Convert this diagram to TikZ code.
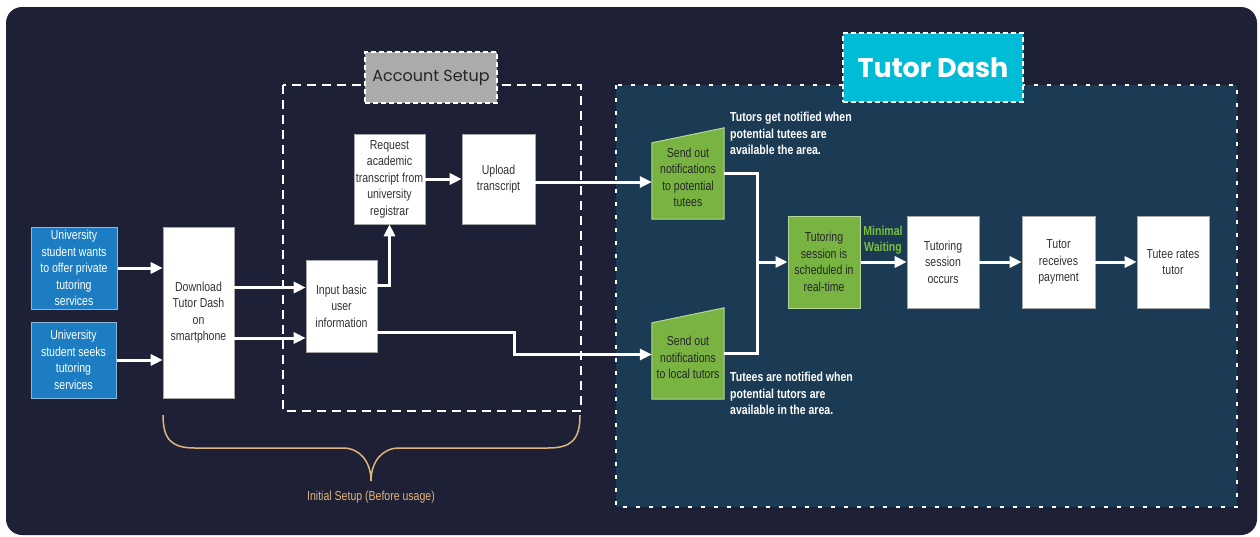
\documentclass[tikz,border=0pt]{standalone}
\usepackage{fontspec}
\setmainfont[FakeStretch=0.81]{Liberation Sans}
\newfontfamily\titlefont{Poppins}
\usetikzlibrary{calc,arrows.meta}
\pgfdeclarelayer{back}
\pgfdeclarelayer{mid}
\pgfsetlayers{back,mid,main}

\definecolor{bgnavy}{HTML}{1E2135}
\definecolor{regionblue}{HTML}{1B3A53}
\definecolor{boxblue}{HTML}{1C7DC2}
\definecolor{boxblueedge}{HTML}{8DB7DA}
\definecolor{boxgreen}{HTML}{79B443}
\definecolor{boxgreenedge}{HTML}{B5D69A}
\definecolor{labelgray}{HTML}{ABABAB}
\definecolor{labelcyan}{HTML}{00BCD6}
\definecolor{bracetan}{HTML}{E0B57B}
\definecolor{waitgreen}{HTML}{7CBF3F}
\definecolor{boxtext}{HTML}{333333}

\tikzset{
  txt/.style={font=\fontsize{13}{16.5}\selectfont, align=center, inner sep=0pt},
  wbox/.style={txt, draw=gray!70, line width=0.6pt, fill=white, text=boxtext},
  bbox/.style={txt, draw=boxblueedge, line width=1pt, fill=boxblue, text=white},
  gbox/.style={txt, draw=boxgreenedge, line width=1pt, fill=boxgreen, text=black!85},
  gtext/.style={txt, text=black!85},
  note/.style={font=\bfseries\fontsize{13}{16.5}\selectfont, align=left, inner sep=0pt, text=white, anchor=north west},
  arr/.style={draw=white, line width=3pt, -{Triangle[length=12pt,width=11pt]}},
  conn/.style={draw=white, line width=3pt},
  tag/.style={draw=white, line width=1.6pt, dash pattern=on 5pt off 3pt}
}

\begin{document}
\begin{tikzpicture}[x=1pt,y=-1pt]
\useasboundingbox (0,0) rectangle (1260,536);

\begin{pgfonlayer}{back}
  \fill[white] (0,0) rectangle (1260,536);
  \fill[bgnavy, rounded corners=16pt] (6,7) rectangle (1257,535);
  % Tutor Dash region
  \fill[regionblue] (616,85) rectangle (1237,507);
  \draw[white, line width=2.6pt, dash pattern=on 4pt off 9pt] (616,85) rectangle (1237,507);
  % Account Setup region
  \draw[white, line width=1.8pt, dash pattern=on 9pt off 6pt] (283,85) rectangle (581,411);
\end{pgfonlayer}

% region labels
\node[tag, fill=labelgray, minimum width=132pt, minimum height=51pt, text=black!85,
      font=\titlefont\fontsize{16}{18}\selectfont] (acct) at (431,77.5) {Account Setup};
\node[tag, fill=labelcyan, minimum width=180pt, minimum height=69pt, text=white,
      font=\titlefont\bfseries\fontsize{27}{30}\selectfont] (tdash) at (933,67.5) {Tutor Dash};

% students
\node[bbox, minimum width=86pt, minimum height=82pt] (b1) at (74,268)
  {University\\student wants\\to offer private\\tutoring\\services};
\node[bbox, minimum width=85pt, minimum height=76pt] (b2) at (73.5,360)
  {University\\student seeks\\tutoring\\services};

% setup steps
\node[wbox, minimum width=71pt, minimum height=171pt] (dl) at (198.5,312.5)
  {Download\\Tutor Dash\\on\\smartphone};
\node[wbox, minimum width=71pt, minimum height=92pt] (inp) at (341.5,306)
  {Input basic\\user\\information};
\node[wbox, minimum width=71pt, minimum height=90pt] (req) at (389.5,179)
  {Request\\academic\\transcript from\\university\\registrar};
\node[wbox, minimum width=73pt, minimum height=90pt] (upl) at (498.5,179)
  {Upload\\transcript};

% notification steps (slanted-top boxes)
\node[gtext, minimum width=72pt, minimum height=83pt] (tut) at (688,177.5)
  {Send out\\notifications\\to potential\\tutees};
\node[gtext, minimum width=72pt, minimum height=83pt] (loc) at (688,357.5)
  {Send out\\notifications\\to local tutors};
\begin{pgfonlayer}{mid}
  \foreach \n in {tut,loc}{
    \filldraw[fill=boxgreen, draw=boxgreenedge, line width=1pt]
      (\n.south west) -- ($(\n.north west)+(0,7)$) -- ($(\n.north east)+(0,-8)$)
      -- (\n.south east) -- cycle;
  }
\end{pgfonlayer}

% session steps
\node[gbox, minimum width=72pt, minimum height=92pt] (sch) at (824,262)
  {Tutoring\\session is\\scheduled in\\real-time};
\node[wbox, minimum width=72pt, minimum height=92pt] (occ) at (943,262)
  {Tutoring\\session\\occurs};
\node[wbox, minimum width=73pt, minimum height=92pt] (pay) at (1058.5,262)
  {Tutor\\receives\\payment};
\node[wbox, minimum width=72pt, minimum height=92pt] (rate) at (1173,262)
  {Tutee rates\\tutor};

% notes
\node[note] (n1) at (730,112) {Tutors get notified when\\potential tutees are\\available the area.};
\node[note] (n2) at (730,372) {Tutees are notified when\\potential tutors are\\available in the area.};
\node[txt, font=\bfseries\fontsize{13}{16.5}\selectfont, text=waitgreen] (wait) at (883,240)
  {Minimal\\Waiting};

% connectors
\draw[arr] (b1.east) -- (b1.east -| dl.west);
\draw[arr] (b2.east) -- (b2.east -| dl.west);
\coordinate (d1) at ($(dl.east)+(0,-25)$);
\coordinate (d2) at ($(dl.east)+(0,25.5)$);
\draw[arr] (d1) -- (d1 -| inp.west);
\draw[arr] (d2) -- (d2 -| inp.west);
\draw[arr] ($(inp.east)+(0,-21)$) -| (req.south);
\draw[arr] (req.east) -- (upl.west);
\coordinate (u1) at ($(upl.east)+(0,3)$);
\draw[arr] (u1) -- (u1 -| tut.west);
\draw[arr] ($(inp.east)+(0,26)$) -- ++(137,0) |- ($(loc.west)+(0,-3)$);
\coordinate (mrg) at ($(sch.west)+(-30,0)$);
\draw[conn] ($(tut.east)+(0,-4.5)$) -| (mrg);
\draw[conn] ($(loc.east)+(0,-4.5)$) -| (mrg);
\draw[arr] (mrg) -- (sch.west);
\draw[arr] (sch) -- (occ);
\draw[arr] (occ) -- (pay);
\draw[arr] (pay) -- (rate);

% brace under the setup steps
\coordinate (bl) at (163,415);
\coordinate (br) at (580,415);
\coordinate (btip) at (371,481);
\draw[bracetan, line width=1.5pt]
  (bl) .. controls (163,440) and (172,448) .. (195,448) -- (343,448)
  .. controls (360,448) and (371,462) .. (btip)
  .. controls (371,462) and (382,448) .. (399,448) -- (548,448)
  .. controls (571,448) and (580,440) .. (br);
\node[txt, text=bracetan] (init) at (371,497) {Initial Setup (Before usage)};

\end{tikzpicture}
\end{document}
